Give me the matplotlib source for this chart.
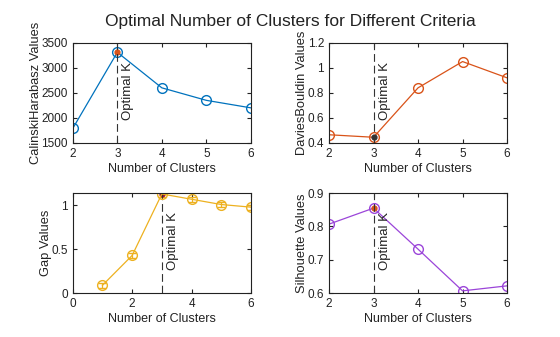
import matplotlib.pyplot as plt
import numpy as np

plt.rcParams['font.family'] = ['Liberation Sans', 'DejaVu Sans']

k = [2, 3, 4, 5, 6]
k_gap = [1, 2, 3, 4, 5, 6]
calinski = [1790, 3310, 2600, 2350, 2200]
davies = [0.465, 0.445, 0.84, 1.05, 0.92]
gap = [0.09, 0.43, 1.13, 1.07, 1.01, 0.98]
gap_err = [0.03, 0.03, 0.03, 0.03, 0.03, 0.03]
silhouette = [0.807, 0.855, 0.732, 0.607, 0.622]
optimal_k = 3

fig = plt.figure(figsize=(5.6, 3.37), dpi=100)
fig.text(0.518, 0.935, "Optimal Number of Clusters for Different Criteria",
         ha='center', va='center', fontsize=12.5, color='#222222')

boxes = [[0.130, 0.576, 0.318, 0.297], [0.5875, 0.576, 0.318, 0.297],
         [0.130, 0.130, 0.318, 0.297], [0.5875, 0.130, 0.318, 0.297]]

panels = [
    (k, calinski, None, '#0072BD', '#D95319', 'CalinskiHarabasz Values', (2, 6), (1500, 3500), [2, 3, 4, 5, 6], [1500, 2000, 2500, 3000, 3500], ['1500', '2000', '2500', '3000', '3500']),
    (k, davies, None, '#D95319', '#333333', 'DaviesBouldin Values', (2, 6), (0.4, 1.2), [2, 3, 4, 5, 6], [0.4, 0.6, 0.8, 1.0, 1.2], ['0.4', '0.6', '0.8', '1', '1.2']),
    (k_gap, gap, gap_err, '#EDB120', '#A2142F', 'Gap Values', (0, 6), (0, 1.14), [0, 2, 4, 6], [0, 0.5, 1], ['0', '0.5', '1']),
    (k, silhouette, None, '#9B45D9', '#D95319', 'Silhouette Values', (2, 6), (0.6, 0.9), [2, 3, 4, 5, 6], [0.6, 0.7, 0.8, 0.9], ['0.6', '0.7', '0.8', '0.9']),
]

for box, (x, y, err, col, best_col, ylab, xl, yl, xt, yt, ytl) in zip(boxes, panels):
    ax = fig.add_axes(box)
    if err is not None:
        ax.errorbar(x, y, yerr=err, color=col, lw=0.9, marker='o', ms=7,
                    mfc='none', mec=col, capsize=3, elinewidth=0.9)
    else:
        ax.plot(x, y, color=col, lw=0.9, marker='o', ms=7, mfc='none', mec=col)
    i = x.index(optimal_k)
    ax.plot(x[i], y[i], 'o', color=best_col, ms=3.5)
    ax.axvline(optimal_k, color='#333333', lw=0.8, ls=(0, (7, 3.5)))
    ax.annotate('Optimal K', xy=(optimal_k, 1), xycoords=('data', 'axes fraction'),
                xytext=(5, -19), textcoords='offset pixels', rotation=90,
                ha='left', va='top', fontsize=9.5, color='#222222')
    ax.set_xlim(*xl)
    ax.set_ylim(*yl)
    ax.set_xticks(xt)
    ax.set_yticks(yt)
    ax.set_yticklabels(ytl)
    ax.set_xlabel('Number of Clusters', fontsize=9, color='#222222', labelpad=2)
    ax.set_ylabel(ylab, fontsize=9.3, color='#222222', labelpad=-0.5)
    ax.tick_params(direction='in', length=3, labelsize=8.5, colors='#222222',
                   top=True, right=True, labeltop=False, labelright=False)
    for s in ax.spines.values():
        s.set_linewidth(0.8)
        s.set_color('#222222')

fig.savefig('out.png', dpi=100)
